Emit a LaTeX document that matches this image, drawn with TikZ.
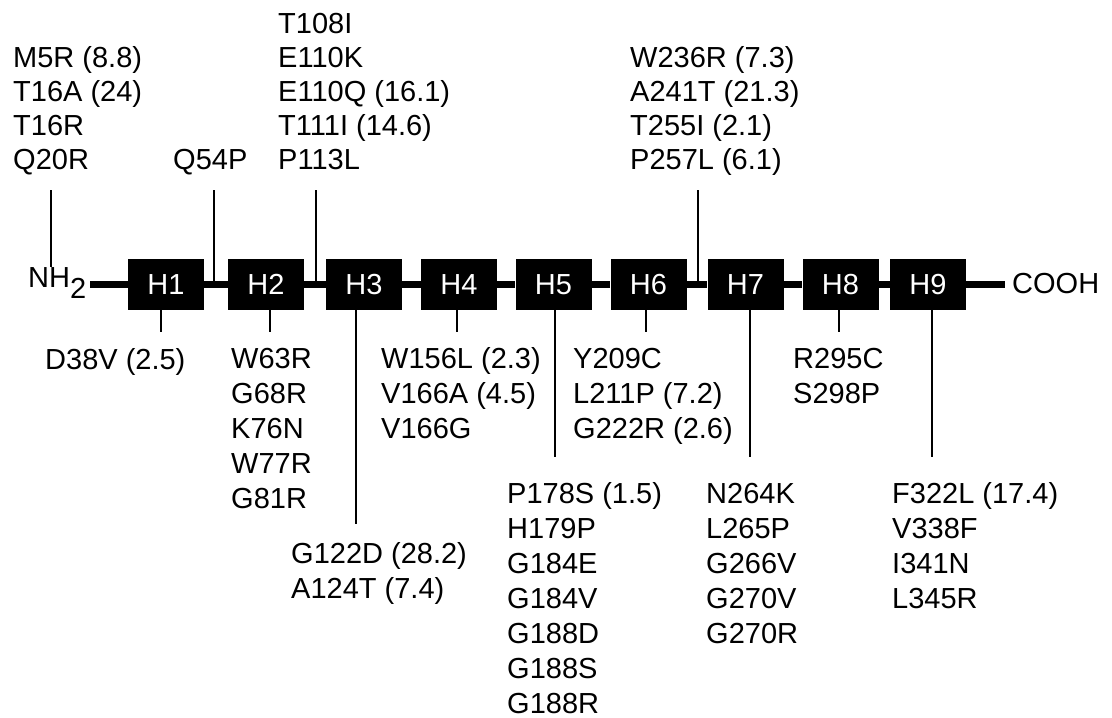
\documentclass[tikz,border=0pt]{standalone}
\usepackage{fontspec}
\setmainfont{Liberation Sans}
\tikzset{
  lbl/.style={font=\fontsize{29}{35}\selectfont, inner sep=0pt, anchor=base west},
  helix/.style={fill=black, minimum width=76pt, minimum height=51pt, inner sep=0pt,
    text=white, font=\fontsize{29}{35}\selectfont},
  conn/.style={line width=1.5pt},
  backbone/.style={line width=7pt}
}
\begin{document}
\begin{tikzpicture}[x=1pt,y=-1pt]
\useasboundingbox (0,0) rectangle (1112,718);
% helices
\foreach \n/\cx in {1/166,2/266,3/364,4/459,5/553.5,6/648.5,7/745.5,8/840.5,9/928}
  \node[helix] (H\n) at (\cx,284.5) {H\n};
% termini
\node[lbl] (nh2) at (28,287) {NH\raisebox{-11pt}{2}};
\node[lbl] (cooh) at (1012,293) {COOH};
% backbone
\draw[backbone] ([xshift=4pt]nh2.east |- H1.west) -- (H1.west);
\foreach \a/\b in {1/2,2/3,3/4,4/5,5/6,6/7,7/8,8/9}
  \draw[backbone] (H\a.east) -- (H\b.west);
\draw[backbone] (H9.east) -- ([xshift=-7pt]cooh.west |- H9.east);
% top connectors
\coordinate (tn) at (51,190);
\coordinate (tq) at (214,190);
\coordinate (tt) at (316,190);
\coordinate (tw) at (698,190);
\draw[conn] (tn) -- (tn |- nh2.north);
\draw[conn] (tq) -- (tq |- H1.center);
\draw[conn] (tt) -- (tt |- H2.center);
\draw[conn] (tw) -- (tw |- H6.center);
% bottom connectors
\coordinate (b1) at (161,332);
\coordinate (b2) at (270,332);
\coordinate (b3) at (356,524);
\coordinate (b4) at (457,332);
\coordinate (b5) at (555,457);
\coordinate (b6) at (646,332);
\coordinate (b7) at (750,457);
\coordinate (b8) at (839,332);
\coordinate (b9) at (932,457);
\foreach \n in {1,...,9}
  \draw[conn] (b\n |- H\n.south) -- (b\n);
% top labels
\foreach \t [count=\i from 1] in {M5R (8.8),T16A (24),T16R,Q20R}
  \node[lbl] (ta\i) at (13,33+34*\i) {\t};
\node[lbl] (tb) at (173,169) {Q54P};
\foreach \t [count=\i from 0] in {T108I,E110K,E110Q (16.1),T111I (14.6),P113L}
  \node[lbl] (tc\i) at (278,33+34*\i) {\t};
\foreach \t [count=\i from 1] in {W236R (7.3),A241T (21.3),T255I (2.1),P257L (6.1)}
  \node[lbl] (td\i) at (630,33+34*\i) {\t};
% bottom labels
\node[lbl] (ba) at (45,369) {D38V (2.5)};
\foreach \t [count=\i from 0] in {W63R,G68R,K76N,W77R,G81R}
  \node[lbl] (bb\i) at (231,368+35*\i) {\t};
\foreach \t [count=\i from 0] in {G122D (28.2),A124T (7.4)}
  \node[lbl] (bc\i) at (291,563+35*\i) {\t};
\foreach \t [count=\i from 0] in {W156L (2.3),V166A (4.5),V166G}
  \node[lbl] (bd\i) at (381,368+35*\i) {\t};
\foreach \t [count=\i from 0] in {P178S (1.5),H179P,G184E,G184V,G188D,G188S,G188R}
  \node[lbl] (be\i) at (507,503+35*\i) {\t};
\foreach \t [count=\i from 0] in {Y209C,L211P (7.2),G222R (2.6)}
  \node[lbl] (bf\i) at (573,368+35*\i) {\t};
\foreach \t [count=\i from 0] in {N264K,L265P,G266V,G270V,G270R}
  \node[lbl] (bg\i) at (706,503+35*\i) {\t};
\foreach \t [count=\i from 0] in {R295C,S298P}
  \node[lbl] (bh\i) at (793,368+35*\i) {\t};
\foreach \t [count=\i from 0] in {F322L (17.4),V338F,I341N,L345R}
  \node[lbl] (bi\i) at (892,503+35*\i) {\t};
\end{tikzpicture}
\end{document}
